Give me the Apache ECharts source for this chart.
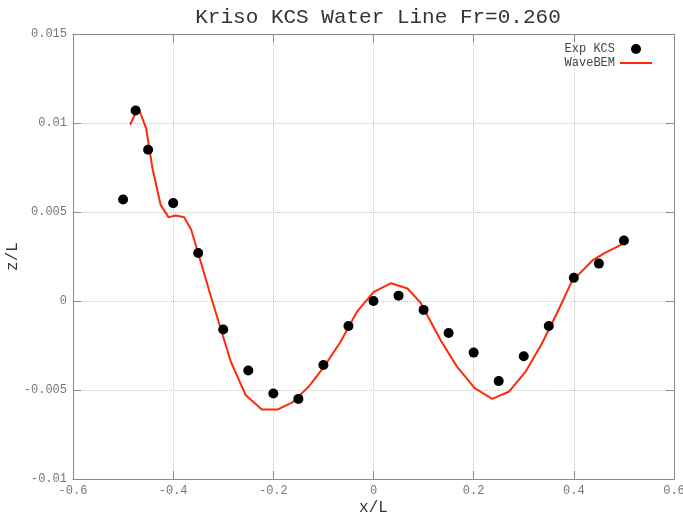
<!DOCTYPE html>
<html>
<head>
    <meta charset="utf-8">
    <title>Kriso KCS Water Line</title>
    <script src="https://cdn.jsdelivr.net/npm/echarts@6/dist/echarts.min.js"></script>
    <style>
        html, body { margin: 0; padding: 0; background: #fff; }
    </style>
</head>
<body>
<div id="main" style="width: 683px;height:516px;"></div>

<script>
    // experimental points (x/L, z/L)
    var expX = [-0.5, -0.475, -0.45, -0.4, -0.35, -0.3, -0.25, -0.2, -0.15, -0.1, -0.05,
        0, 0.05, 0.1, 0.15, 0.2, 0.25, 0.3, 0.35, 0.4, 0.45, 0.5];
    var expZ = [0.0057, 0.0107, 0.0085, 0.0055, 0.0027, -0.0016, -0.0039, -0.0052, -0.0055, -0.0036, -0.0014,
        0, 0.0003, -0.0005, -0.0018, -0.0029, -0.0045, -0.0031, -0.0014, 0.0013, 0.0021, 0.0034];

    // WaveBEM computed line
    var bemX = [-0.486, -0.470, -0.454, -0.441, -0.425, -0.409, -0.395, -0.378, -0.364, -0.346,
        -0.322, -0.285, -0.255, -0.223, -0.192, -0.162, -0.129, -0.099, -0.066, -0.033,
        0.000, 0.035, 0.068, 0.094, 0.134, 0.167, 0.202, 0.237, 0.270, 0.303,
        0.336, 0.366, 0.396, 0.438, 0.462, 0.497];
    var bemZ = [0.0099, 0.0109, 0.0097, 0.0074, 0.0054, 0.0047, 0.0048, 0.0047, 0.0040, 0.0023,
        0.0000, -0.0034, -0.0053, -0.0061, -0.0061, -0.0057, -0.0048, -0.0037, -0.0023, -0.0006,
        0.0005, 0.0010, 0.0007, -0.0001, -0.0022, -0.0037, -0.0049, -0.0055, -0.0051, -0.0040,
        -0.0024, -0.0007, 0.0011, 0.0023, 0.0027, 0.0032];

    var font = 'Liberation Mono';
    var frame = '#8a8a8a';
    var red = '#ff2a0a';

    function pairs(xs, ys) {
        var out = [];
        for (var i = 0; i < xs.length; i++) {
            out.push([xs[i], ys[i]]);
        }
        return out;
    }

    function frameAxis(extra) {
        var a = {
            type: 'value',
            axisLine: { show: true, onZero: false, lineStyle: { color: frame } },
            axisTick: { show: true, inside: true, length: 8, lineStyle: { color: frame } },
            axisLabel: { show: false },
            splitLine: { show: false }
        };
        for (var k in extra) a[k] = extra[k];
        return a;
    }

    var myChart = echarts.init(document.getElementById('main'));
    var option = {
        animation: false,
        title: {
            text: 'Kriso KCS Water Line Fr=0.260',
            left: 373,
            textAlign: 'center',
            top: 2,
            textStyle: { fontFamily: font, fontSize: 21, fontWeight: 'normal', color: '#333' }
        },
        legend: {
            orient: 'vertical',
            right: 26,
            top: 38,
            align: 'right',
            itemWidth: 32,
            itemHeight: 10,
            itemGap: 2,
            textStyle: { fontFamily: font, fontSize: 12, color: '#444' },
            data: [
                { name: 'Exp KCS', icon: 'circle' },
                { name: 'WaveBEM', icon: 'path://M0,0 L32,0 L32,2 L0,2 Z' }
            ]
        },
        grid: {
            left: 73,
            right: 9,
            top: 34,
            bottom: 37,
            outerBoundsMode: 'none'
        },
        xAxis: [
            frameAxis({
                min: -0.6, max: 0.6, interval: 0.2,
                name: 'x/L',
                nameLocation: 'middle',
                nameGap: 21,
                nameMoveOverlap: false,
                nameTextStyle: { fontFamily: font, fontSize: 16, color: '#333' },
                axisLabel: { show: true, fontFamily: font, fontSize: 12, color: '#777', margin: 6 },
                splitLine: { show: true, lineStyle: { color: '#c8c8c8', type: 'dotted' } }
            }),
            frameAxis({ position: 'top', min: -0.6, max: 0.6, interval: 0.2 })
        ],
        yAxis: [
            frameAxis({
                min: -0.01, max: 0.015, interval: 0.005,
                name: 'z/L',
                nameLocation: 'middle',
                nameGap: 52,
                nameMoveOverlap: false,
                nameTextStyle: { fontFamily: font, fontSize: 16, color: '#333' },
                axisLabel: { show: true, fontFamily: font, fontSize: 12, color: '#777', margin: 6 },
                splitLine: { show: true, lineStyle: { color: '#c8c8c8', type: 'dotted' } }
            }),
            frameAxis({ position: 'right', min: -0.01, max: 0.015, interval: 0.005 })
        ],
        series: [{
            name: 'Exp KCS',
            type: 'scatter',
            symbol: 'circle',
            symbolSize: 10,
            itemStyle: { color: '#000', opacity: 1 },
            data: pairs(expX, expZ),
            z: 3
        }, {
            name: 'WaveBEM',
            type: 'line',
            symbol: 'none',
            lineStyle: { color: red, width: 2 },
            itemStyle: { color: red },
            data: pairs(bemX, bemZ),
            z: 2
        }]
    };
    myChart.setOption(option);
</script>
</body>
</html>
